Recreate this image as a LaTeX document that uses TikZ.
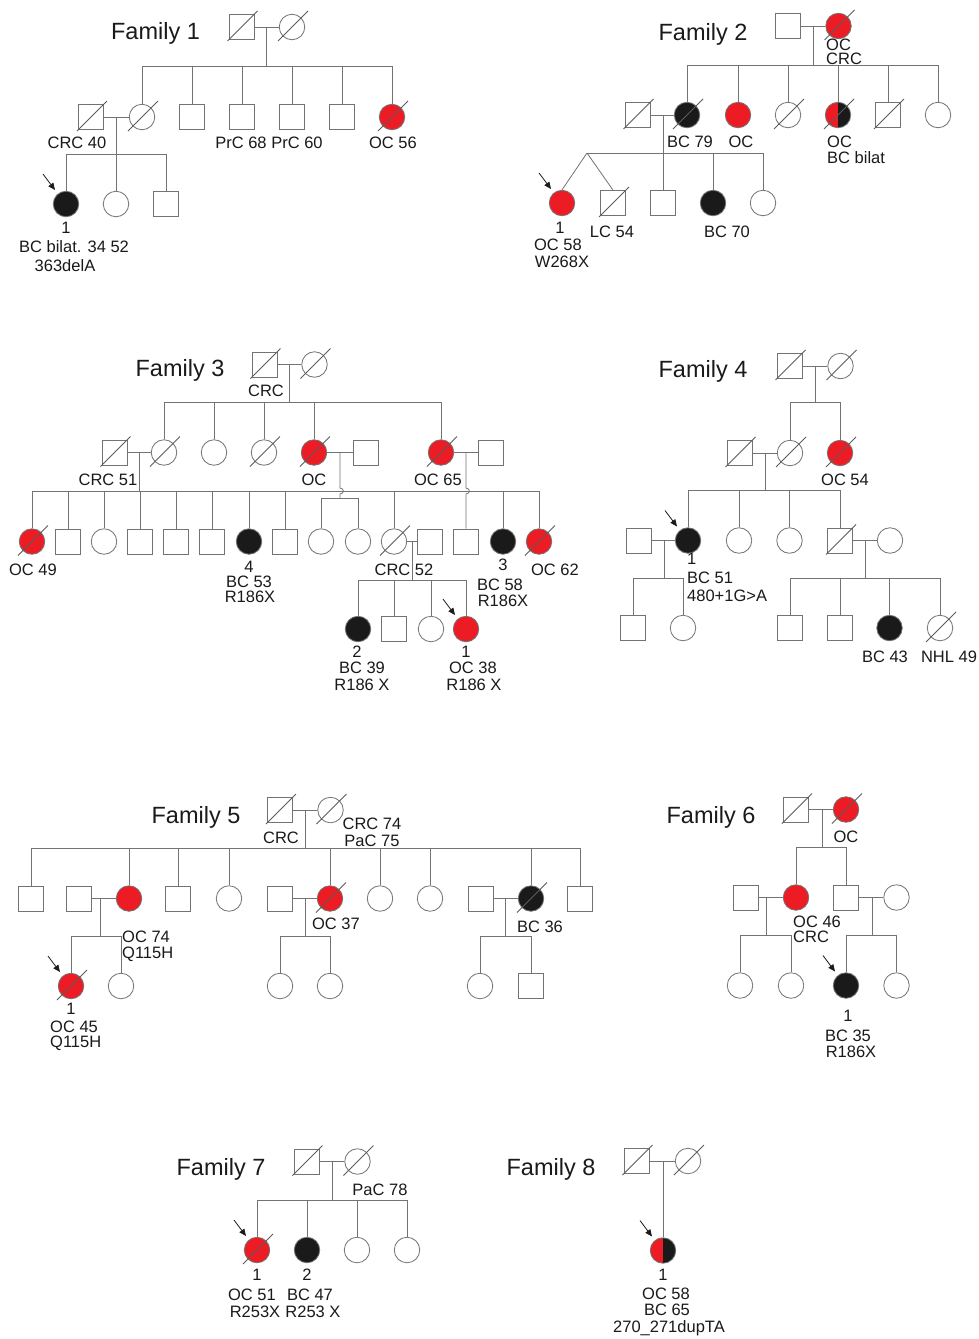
\documentclass[tikz,border=0pt]{standalone}
\usepackage{fontspec}
\setmainfont{Liberation Sans}
\usetikzlibrary{arrows.meta}
\definecolor{pedred}{RGB}{237,28,36}
\definecolor{pedblack}{RGB}{26,26,26}
\definecolor{linegray}{RGB}{115,115,115}
\newcommand\labfont{\fontsize{16.5}{18}\selectfont}
\newcommand\ttlfont{\fontsize{23.5}{26}\selectfont}
\begin{document}
\begin{tikzpicture}[x=1pt,y=-1pt,
  ln/.style={draw=linegray, line width=0.8pt},
  slashline/.style={draw=linegray!80!black, line width=0.8pt},
  probarrow/.style={draw=pedblack, line width=0.8pt, -{Triangle[length=7pt,width=6pt]}},
  ind/.style={draw=linegray, line width=0.8pt, inner sep=0pt, fill=white},
  male/.style={ind, rectangle, minimum size=25pt},
  female/.style={ind, circle, minimum size=25.5pt},
  affr/.style={fill=pedred},
  affb/.style={fill=pedblack},
  affh/.style={path picture={
    \fill[pedred] (path picture bounding box.north west) rectangle (path picture bounding box.south);
    \fill[pedblack] (path picture bounding box.north) rectangle (path picture bounding box.south east);}},
  dec/.style={append after command={([shift={(-14,14)}]\tikzlastnode.center) edge[slashline] ([shift={(16,-16)}]\tikzlastnode.center)}},
  prob/.style={append after command={([shift={(-23,-30)}]\tikzlastnode.center) edge[probarrow] ([shift={(-11,-14)}]\tikzlastnode.center)}},
  lab/.style={font=\labfont, text=pedblack, inner sep=0pt, anchor=base},
  labl/.style={lab, anchor=base west},
  ttl/.style={font=\ttlfont, text=pedblack, inner sep=0pt, anchor=base}]
\fill[white] (0,0) rectangle (979,1339);
\useasboundingbox (0,0) rectangle (979,1339);

% ---------------- Family 1 ----------------
\node[ttl] (t1) at (155.5,39) {Family 1};
\node[male,dec] (f1a) at (241.5,27) {};
\node[female,dec] (f1b) at (292,27) {};
\coordinate (f1m) at (266,27);
\coordinate (f1s) at (266,66);
\node[male,dec] (f1d) at (91,117) {};
\node[female,dec] (f1c) at (142,117) {};
\node[male] (f1e) at (192,117) {};
\node[male] (f1f) at (242,117) {};
\node[male] (f1g) at (292,117) {};
\node[male] (f1h) at (342,117) {};
\node[female,affr,dec] (f1i) at (392,117) {};
\coordinate (f1cm) at (116,117);
\coordinate (f1cs) at (116,154);
\node[female,affb,prob] (f1j) at (66,204) {};
\node[female] (f1k) at (116,204) {};
\node[male] (f1l) at (166,204) {};
\draw[ln] (f1a) -- (f1b);
\draw[ln] (f1m) -- (f1s);
\draw[ln] (f1c.north |- f1s) -- (f1i.north |- f1s);
\foreach \n in {f1c,f1e,f1f,f1g,f1h,f1i} \draw[ln] (\n.north |- f1s) -- (\n.north);
\draw[ln] (f1d) -- (f1c);
\draw[ln] (f1cm) -- (f1cs);
\draw[ln] (f1j.north |- f1cs) -- (f1l.north |- f1cs);
\foreach \n in {f1j,f1k,f1l} \draw[ln] (\n.north |- f1cs) -- (\n.north);
\node[lab] (l1a) at (77,148) {CRC 40};
\node[lab] (l1b) at (241,148) {PrC 68};
\node[lab] (l1c) at (297,148) {PrC 60};
\node[lab] (l1d) at (393,148) {OC 56};
\node[lab] (l1e) at (66,233) {1};
\node[lab] (l1f) at (74,252) {BC bilat. 34 52};
\node[lab] (l1g) at (65,271) {363delA};

% ---------------- Family 2 ----------------
\node[ttl] (t2) at (703,40) {Family 2};
\node[male] (f2a) at (788,26) {};
\node[female,affr,dec] (f2b) at (838.5,26) {};
\coordinate (f2m) at (813,26);
\coordinate (f2s) at (813,65);
\node[male,dec] (f2d) at (637.5,115) {};
\node[female,affb,dec] (f2c) at (687,115) {};
\node[female,affr] (f2e) at (738,115) {};
\node[female,dec] (f2f) at (788,115) {};
\node[female,affh,dec] (f2g) at (838,115) {};
\node[male,dec] (f2h) at (888,115) {};
\node[female] (f2i) at (938,115) {};
\coordinate (f2cm) at (663,115);
\coordinate (f2tw) at (587,153);
\node[female,affr,prob] (f2j) at (562,203) {};
\node[male,dec] (f2k) at (613,203) {};
\node[male] (f2l) at (663,203) {};
\node[female,affb] (f2mm) at (713,203) {};
\node[female] (f2n) at (763,203) {};
\draw[ln] (f2a) -- (f2b);
\draw[ln] (f2m) -- (f2s);
\draw[ln] (f2c.north |- f2s) -- (f2i.north |- f2s);
\foreach \n in {f2c,f2e,f2f,f2g,f2h,f2i} \draw[ln] (\n.north |- f2s) -- (\n.north);
\draw[ln] (f2d) -- (f2c);
\draw[ln] (f2cm) -- (f2l.north);
\draw[ln] (f2tw) -- (f2n.north |- f2tw);
\draw[ln] (f2tw) -- (f2j.north);
\draw[ln] (f2tw) -- (f2k.north);
\foreach \n in {f2mm,f2n} \draw[ln] (\n.north |- f2tw) -- (\n.north);
\node[labl] (l2a) at (826,50) {OC};
\node[labl] (l2b) at (826,64) {CRC};
\node[lab] (l2c) at (690,147) {BC 79};
\node[lab] (l2d) at (741,147) {OC};
\node[labl] (l2e) at (827,147) {OC};
\node[labl] (l2f) at (827,163) {BC bilat};
\node[lab] (l2g) at (560,233) {1};
\node[lab] (l2h) at (558,250) {OC 58};
\node[lab] (l2i) at (562,267) {W268X};
\node[lab] (l2j) at (612,237) {LC 54};
\node[lab] (l2k) at (727,237) {BC 70};

% ---------------- Family 3 ----------------
\node[ttl] (t3) at (180,376) {Family 3};
\node[male,dec] (f3a) at (264.5,364.5) {};
\node[female,dec] (f3b) at (314.5,364.5) {};
\coordinate (f3m) at (289,364.5);
\coordinate (f3s) at (289,402);
\node[male,dec] (f3h) at (114.5,452.5) {};
\node[female,dec] (f3c) at (164,452.5) {};
\node[female] (f3d) at (214,452.5) {};
\node[female,dec] (f3e) at (264,452.5) {};
\node[female,affr,dec] (f3f) at (314,452.5) {};
\node[male] (f3i) at (365.5,452.5) {};
\node[female,affr,dec] (f3g) at (441,452.5) {};
\node[male] (f3j) at (491,452.5) {};
\coordinate (f3cm) at (139,452.5);
\coordinate (f3cs) at (139,491);
\coordinate (f3fm) at (340,452.5);
\coordinate (f3fs) at (340,498);
\coordinate (f3gm) at (466,452.5);
\node[female,affr,dec] (f3k) at (32,541.5) {};
\node[male] (f3l) at (68,541.5) {};
\node[female] (f3mm) at (104,541.5) {};
\node[male] (f3n) at (140,541.5) {};
\node[male] (f3o) at (176,541.5) {};
\node[male] (f3p) at (212,541.5) {};
\node[female,affb] (f3q) at (249,541.5) {};
\node[male] (f3r) at (285,541.5) {};
\node[female] (f3sa) at (321,541.5) {};
\node[female] (f3t) at (358,541.5) {};
\node[female,dec] (f3u) at (394,541.5) {};
\node[male] (f3v) at (430,541.5) {};
\node[male] (f3w) at (466,541.5) {};
\node[female,affb] (f3x) at (503,541.5) {};
\node[female,affr,dec] (f3y) at (539,541.5) {};
\coordinate (f3um) at (412,541.5);
\coordinate (f3us) at (412,580);
\node[female,affb] (f3z) at (358,629) {};
\node[male] (f3aa) at (394,629) {};
\node[female] (f3ab) at (431,629) {};
\node[female,affr,prob] (f3ac) at (466,629) {};
\draw[ln] (f3a) -- (f3b);
\draw[ln] (f3m) -- (f3s);
\draw[ln] (f3c.north |- f3s) -- (f3g.north |- f3s);
\foreach \n in {f3c,f3d,f3e,f3f,f3g} \draw[ln] (\n.north |- f3s) -- (\n.north);
\draw[ln] (f3h) -- (f3c);
\draw[ln] (f3f) -- (f3i);
\draw[ln] (f3g) -- (f3j);
\draw[ln] (f3cm) -- (f3cs);
\draw[ln] (f3k.north |- f3cs) -- (f3y.north |- f3cs);
\foreach \n in {f3k,f3l,f3mm,f3n,f3o,f3p,f3q,f3r,f3u,f3x,f3y} \draw[ln] (\n.north |- f3cs) -- (\n.north);
% descent lines hop over the sibship line
\draw[ln] (f3fm) -- (340,488) .. controls (344.5,488.5) and (344.5,493.5) .. (340,494) -- (f3fs);
\draw[ln] (f3sa.north |- f3fs) -- (f3t.north |- f3fs);
\foreach \n in {f3sa,f3t} \draw[ln] (\n.north |- f3fs) -- (\n.north);
\draw[ln] (f3gm) -- (466,488) .. controls (470.5,488.5) and (470.5,493.5) .. (466,494) -- (f3w.north);
\draw[ln] (f3u) -- (f3v);
\draw[ln] (f3um) -- (f3us);
\draw[ln] (f3z.north |- f3us) -- (f3ac.north |- f3us);
\foreach \n in {f3z,f3aa,f3ab,f3ac} \draw[ln] (\n.north |- f3us) -- (\n.north);
\node[lab] (l3a) at (266,396) {CRC};
\node[lab] (l3b) at (108,485) {CRC 51};
\node[lab] (l3c) at (314,485) {OC};
\node[lab] (l3d) at (438,485) {OC 65};
\node[lab] (l3e) at (33,575) {OC 49};
\node[lab] (l3f) at (249,572) {4};
\node[lab] (l3g) at (249,587) {BC 53};
\node[lab] (l3h) at (250,602) {R186X};
\node[lab] (l3i) at (404,575) {CRC 52};
\node[lab] (l3j) at (503,570) {3};
\node[lab] (l3k) at (500,590) {BC 58};
\node[lab] (l3l) at (503,606) {R186X};
\node[lab] (l3m) at (555,575) {OC 62};
\node[lab] (l3n) at (357,657) {2};
\node[lab] (l3o) at (362,673) {BC 39};
\node[lab] (l3p) at (362,690) {R186 X};
\node[lab] (l3q) at (466,657) {1};
\node[lab] (l3r) at (473,673) {OC 38};
\node[lab] (l3s) at (474,690) {R186 X};

% ---------------- Family 4 ----------------
\node[ttl] (t4) at (703,377) {Family 4};
\node[male,dec] (f4a) at (789.5,366) {};
\node[female,dec] (f4b) at (840.5,366) {};
\coordinate (f4m) at (815,366);
\coordinate (f4s) at (815,402);
\node[male,dec] (f4e) at (739.5,453) {};
\node[female,dec] (f4c) at (790,453) {};
\node[female,affr,dec] (f4d) at (840,453) {};
\coordinate (f4cm) at (765,453);
\coordinate (f4cs) at (765,490);
\node[male] (f4j) at (639,540.5) {};
\node[female,affb,prob] (f4f) at (688,540.5) {};
\node[female] (f4g) at (739,540.5) {};
\node[female] (f4h) at (789.5,540.5) {};
\node[male,dec] (f4i) at (840,540.5) {};
\node[female] (f4mm) at (890,540.5) {};
\coordinate (f4fm) at (664,540.5);
\coordinate (f4fs) at (664,578);
\coordinate (f4im) at (865,540.5);
\coordinate (f4is) at (865,578);
\node[male] (f4k) at (633,628) {};
\node[female] (f4l) at (683,628) {};
\node[male] (f4n) at (790,628) {};
\node[male] (f4o) at (840,628) {};
\node[female,affb] (f4p) at (889.5,628) {};
\node[female,dec] (f4q) at (940,628) {};
\draw[ln] (f4a) -- (f4b);
\draw[ln] (f4m) -- (f4s);
\draw[ln] (f4c.north |- f4s) -- (f4d.north |- f4s);
\foreach \n in {f4c,f4d} \draw[ln] (\n.north |- f4s) -- (\n.north);
\draw[ln] (f4e) -- (f4c);
\draw[ln] (f4cm) -- (f4cs);
\draw[ln] (f4f.north |- f4cs) -- (f4i.north |- f4cs);
\foreach \n in {f4f,f4g,f4h,f4i} \draw[ln] (\n.north |- f4cs) -- (\n.north);
\draw[ln] (f4j) -- (f4f);
\draw[ln] (f4fm) -- (f4fs);
\draw[ln] (f4k.north |- f4fs) -- (f4l.north |- f4fs);
\foreach \n in {f4k,f4l} \draw[ln] (\n.north |- f4fs) -- (\n.north);
\draw[ln] (f4i) -- (f4mm);
\draw[ln] (f4im) -- (f4is);
\draw[ln] (f4n.north |- f4is) -- (f4q.north |- f4is);
\foreach \n in {f4n,f4o,f4p,f4q} \draw[ln] (\n.north |- f4is) -- (\n.north);
\node[lab] (l4a) at (845,485) {OC 54};
\node[labl] (l4b) at (687,564) {1};
\node[labl] (l4c) at (687,583) {BC 51};
\node[labl] (l4d) at (687,601) {480+1G>A};
\node[lab] (l4e) at (885,662) {BC 43};
\node[lab] (l4f) at (949,662) {NHL 49};

% ---------------- Family 5 ----------------
\node[ttl] (t5) at (196,823) {Family 5};
\node[male,dec] (f5a) at (280,810) {};
\node[female,dec] (f5b) at (330.5,810) {};
\coordinate (f5m) at (305,810);
\coordinate (f5s) at (305,848);
\node[male] (f5c) at (31,898.5) {};
\node[male] (f5l) at (78.5,898.5) {};
\node[female,affr] (f5d) at (129,898.5) {};
\node[male] (f5e) at (178,898.5) {};
\node[female] (f5f) at (229,898.5) {};
\node[male] (f5o) at (280,898.5) {};
\node[female,affr,dec] (f5g) at (330,898.5) {};
\node[female] (f5h) at (380,898.5) {};
\node[female] (f5i) at (430,898.5) {};
\node[male] (f5r) at (480.5,898.5) {};
\node[female,affb,dec] (f5j) at (531,898.5) {};
\node[male] (f5k) at (580,898.5) {};
\coordinate (f5dm) at (100,898.5);
\coordinate (f5ds) at (100,936);
\coordinate (f5gm) at (305,898.5);
\coordinate (f5gs) at (305,936);
\coordinate (f5jm) at (505,898.5);
\coordinate (f5js) at (505,936);
\node[female,affr,dec,prob] (f5mm) at (71,986) {};
\node[female] (f5n) at (121,986) {};
\node[female] (f5p) at (280,986) {};
\node[female] (f5q) at (330,986) {};
\node[female] (f5sa) at (480,986) {};
\node[male] (f5t) at (531,986) {};
\draw[ln] (f5a) -- (f5b);
\draw[ln] (f5m) -- (f5s);
\draw[ln] (f5c.north |- f5s) -- (f5k.north |- f5s);
\foreach \n in {f5c,f5d,f5e,f5f,f5g,f5h,f5i,f5j,f5k} \draw[ln] (\n.north |- f5s) -- (\n.north);
\draw[ln] (f5l) -- (f5d);
\draw[ln] (f5dm) -- (f5ds);
\draw[ln] (f5mm.north |- f5ds) -- (f5n.north |- f5ds);
\foreach \n in {f5mm,f5n} \draw[ln] (\n.north |- f5ds) -- (\n.north);
\draw[ln] (f5o) -- (f5g);
\draw[ln] (f5gm) -- (f5gs);
\draw[ln] (f5p.north |- f5gs) -- (f5q.north |- f5gs);
\foreach \n in {f5p,f5q} \draw[ln] (\n.north |- f5gs) -- (\n.north);
\draw[ln] (f5r) -- (f5j);
\draw[ln] (f5jm) -- (f5js);
\draw[ln] (f5sa.north |- f5js) -- (f5t.north |- f5js);
\foreach \n in {f5sa,f5t} \draw[ln] (\n.north |- f5js) -- (\n.north);
\node[lab] (l5a) at (281,843) {CRC};
\node[lab] (l5b) at (372,829) {CRC 74};
\node[lab] (l5c) at (372,846) {PaC 75};
\node[labl] (l5d) at (122,942) {OC 74};
\node[labl] (l5e) at (122,958) {Q115H};
\node[lab] (l5f) at (336,929) {OC 37};
\node[lab] (l5g) at (540,932) {BC 36};
\node[lab] (l5h) at (71,1014) {1};
\node[labl] (l5i) at (50,1032) {OC 45};
\node[labl] (l5j) at (50,1047) {Q115H};

% ---------------- Family 6 ----------------
\node[ttl] (t6) at (711,823) {Family 6};
\node[male,dec] (f6a) at (796,809.5) {};
\node[female,affr,dec] (f6b) at (846,809.5) {};
\coordinate (f6m) at (822,809.5);
\coordinate (f6s) at (822,847);
\node[male] (f6e) at (745.5,897.5) {};
\node[female,affr] (f6c) at (796,897.5) {};
\node[male] (f6d) at (846,897.5) {};
\node[female] (f6h) at (896.5,897.5) {};
\coordinate (f6cm) at (766,897.5);
\coordinate (f6cs) at (766,935);
\coordinate (f6dm) at (872,897.5);
\coordinate (f6ds) at (872,935);
\node[female] (f6f) at (740,985.5) {};
\node[female] (f6g) at (791,985.5) {};
\node[female,affb,prob] (f6i) at (846,985.5) {};
\node[female] (f6j) at (896.5,985.5) {};
\draw[ln] (f6a) -- (f6b);
\draw[ln] (f6m) -- (f6s);
\draw[ln] (f6c.north |- f6s) -- (f6d.north |- f6s);
\foreach \n in {f6c,f6d} \draw[ln] (\n.north |- f6s) -- (\n.north);
\draw[ln] (f6e) -- (f6c);
\draw[ln] (f6cm) -- (f6cs);
\draw[ln] (f6f.north |- f6cs) -- (f6g.north |- f6cs);
\foreach \n in {f6f,f6g} \draw[ln] (\n.north |- f6cs) -- (\n.north);
\draw[ln] (f6d) -- (f6h);
\draw[ln] (f6dm) -- (f6ds);
\draw[ln] (f6i.north |- f6ds) -- (f6j.north |- f6ds);
\foreach \n in {f6i,f6j} \draw[ln] (\n.north |- f6ds) -- (\n.north);
\node[lab] (l6a) at (846,842) {OC};
\node[labl] (l6b) at (793,927) {OC 46};
\node[labl] (l6c) at (793,942) {CRC};
\node[lab] (l6d) at (848,1021) {1};
\node[lab] (l6e) at (848,1041) {BC 35};
\node[lab] (l6f) at (851,1057) {R186X};

% ---------------- Family 7 ----------------
\node[ttl] (t7) at (221,1175) {Family 7};
\node[male,dec] (f7a) at (306.5,1161.5) {};
\node[female,dec] (f7b) at (357.5,1161.5) {};
\coordinate (f7m) at (332,1161.5);
\coordinate (f7s) at (332,1200);
\node[female,affr,dec,prob] (f7c) at (257,1250) {};
\node[female,affb] (f7d) at (307,1250) {};
\node[female] (f7e) at (357,1250) {};
\node[female] (f7f) at (407,1250) {};
\draw[ln] (f7a) -- (f7b);
\draw[ln] (f7m) -- (f7s);
\draw[ln] (f7c.north |- f7s) -- (f7f.north |- f7s);
\foreach \n in {f7c,f7d,f7e,f7f} \draw[ln] (\n.north |- f7s) -- (\n.north);
\node[lab] (l7a) at (380,1195) {PaC 78};
\node[lab] (l7b) at (257,1280) {1};
\node[lab] (l7c) at (252,1300) {OC 51};
\node[lab] (l7d) at (255,1317) {R253X};
\node[lab] (l7e) at (307,1280) {2};
\node[lab] (l7f) at (310,1300) {BC 47};
\node[lab] (l7g) at (313,1317) {R253 X};

% ---------------- Family 8 ----------------
\node[ttl] (t8) at (551,1175) {Family 8};
\node[male,dec] (f8a) at (636.5,1161) {};
\node[female,dec] (f8b) at (688,1161) {};
\coordinate (f8m) at (663,1161);
\node[female,affh,prob] (f8c) at (663,1250.5) {};
\draw[ln] (f8a) -- (f8b);
\draw[ln] (f8m) -- (f8c.north);
\node[lab] (l8a) at (663,1280) {1};
\node[lab] (l8b) at (666,1299) {OC 58};
\node[lab] (l8c) at (667,1315) {BC 65};
\node[lab] (l8d) at (669,1332) {270\_271dupTA};
\end{tikzpicture}
\end{document}
